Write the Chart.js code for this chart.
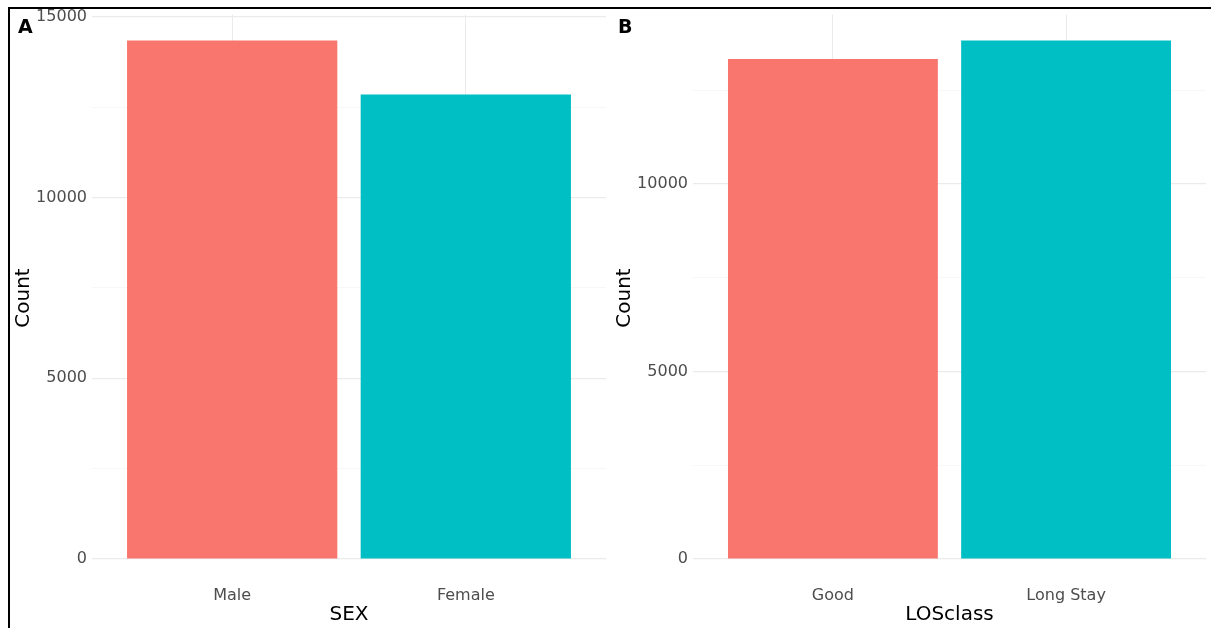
<!DOCTYPE html>
<html>
<head>
<meta charset="utf-8">
<script src="https://cdn.jsdelivr.net/npm/chart.js@4.4.1/dist/chart.umd.min.js"></script>
<style>
  html, body { margin: 0; padding: 0; background: #ffffff; }
  body { width: 1211px; height: 628px; position: relative; overflow: hidden; font-family: "DejaVu Sans", sans-serif; }
  .panel { position: absolute; top: 0; height: 628px; }
  #pa { left: 0; width: 607px; }
  #pb { left: 607px; width: 604px; }
  .tag { position: absolute; font-weight: bold; font-size: 19px; line-height: 1; color: #000; }
  .ytitle { position: absolute; font-size: 20px; line-height: 24px; color: #000; white-space: nowrap;
            transform: translate(-50%, -50%) rotate(-90deg); }
  #frame { position: absolute; left: 8px; top: 7px; width: 1210px; height: 640px; border: 2px solid #000; box-sizing: border-box; pointer-events: none; }
</style>
</head>
<body>
<div class="panel" id="pa"><canvas id="ca"></canvas></div>
<div class="panel" id="pb"><canvas id="cb"></canvas></div>
<div class="tag" style="left:18px; top:17px;">A</div>
<div class="tag" style="left:618px; top:17px;">B</div>
<div class="ytitle" style="left:22px; top:298px;">Count</div>
<div class="ytitle" style="left:623px; top:298px;">Count</div>
<div id="frame"></div>
<script>
// ---- data ----
const sexCategories = ["Male", "Female"];
const sexCounts = [14340, 12850];
const losCategories = ["Good", "Long Stay"];
const losCounts = [13330, 13820];
const barColors = ["#F8766D", "#00BFC4"];
const yGridValues = [0, 2500, 5000, 7500, 10000, 12500, 15000];
const yLabelValues = [0, 5000, 10000, 15000];

const FONT = "'DejaVu Sans', sans-serif";

function isMajor(v) {
  return yLabelValues.some(l => Math.abs(l - v) < 1e-6);
}

function makeChart(canvasId, categories, counts, xTitle, yAxisWidth, rightPad) {
  const data = counts.map((v, i) => ({ x: i + 1, y: v }));
  const yMax = Math.max(...counts) * 1.05;
  return new Chart(document.getElementById(canvasId), {
    type: 'bar',
    data: {
      datasets: [{
        data: data,
        backgroundColor: barColors,
        borderWidth: 0,
        barPercentage: 0.9,
        categoryPercentage: 1.0
      }]
    },
    options: {
      responsive: true,
      maintainAspectRatio: false,
      animation: false,
      layout: { padding: { top: 13, right: rightPad, left: 0, bottom: 0 } },
      plugins: { legend: { display: false }, tooltip: { enabled: false } },
      scales: {
        x: {
          type: 'linear',
          min: 0.4,
          max: categories.length + 0.6,
          offset: false,
          afterBuildTicks: (s) => { s.ticks = categories.map((c, i) => ({ value: i + 1 })); },
          afterFit: (s) => { s.height = 69; },
          border: { display: false },
          grid: { offset: false, color: '#ebebeb', lineWidth: 1, drawTicks: false },
          ticks: {
            padding: 27,
            color: '#4d4d4d',
            font: { family: FONT, size: 16 },
            maxRotation: 0,
            autoSkip: false,
            callback: (v) => categories[Math.round(v) - 1] || ''
          },
          title: {
            display: true,
            text: xTitle,
            color: '#000',
            font: { family: FONT, size: 20 },
            padding: { top: 1, bottom: 1 }
          }
        },
        y: {
          min: 0,
          max: yMax,
          afterBuildTicks: (s) => { s.ticks = yGridValues.filter(v => v <= yMax).map(v => ({ value: v })); },
          afterFit: (s) => { s.width = yAxisWidth; },
          border: { display: false },
          grid: {
            drawTicks: false,
            color: (ctx) => (ctx.tick && isMajor(ctx.tick.value)) ? '#ebebeb' : '#f5f5f5',
            lineWidth: (ctx) => (ctx.tick && isMajor(ctx.tick.value)) ? 1.2 : 0.8
          },
          ticks: {
            padding: 5,
            color: '#4d4d4d',
            font: { family: FONT, size: 16 },
            autoSkip: false,
            callback: (v) => isMajor(v) ? String(Math.round(v)) : ''
          },
          title: { display: false }
        }
      }
    }
  });
}

makeChart('ca', sexCategories, sexCounts, 'SEX', 92, 1);
makeChart('cb', losCategories, losCounts, 'LOSclass', 86, 5);
</script>
</body>
</html>
